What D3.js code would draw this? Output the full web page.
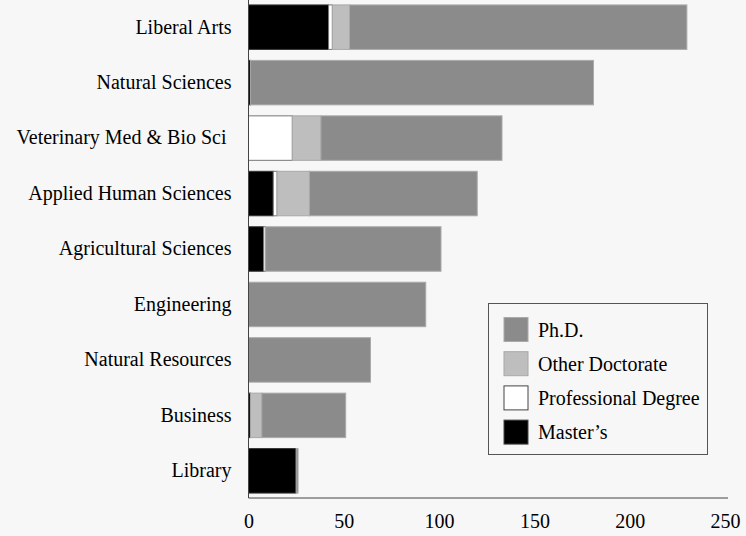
<!DOCTYPE html>
<html>
<head>
<meta charset="utf-8">
<script src="https://cdn.jsdelivr.net/npm/d3@7"></script>
<style>
  body { margin: 0; background: #f7f7f7; }
  svg { display: block; background: #f7f7f7; }
  svg text { font-family: "Liberation Serif", "Times New Roman", Times, "DejaVu Serif", serif; }
</style>
</head>
<body>
<svg width="746" height="536"></svg>
<script>
// categories, top to bottom
var colleges = ['Liberal Arts', 'Natural Sciences', 'Veterinary Med & Bio Sci ', 'Applied Human Sciences',
    'Agricultural Sciences', 'Engineering', 'Natural Resources', 'Business', 'Library'];

// degree counts per college (same order as colleges)
var masters      = [42, 1, 0, 13, 8, 0, 0, 1, 25];
var professional = [ 2, 0, 23, 2, 1, 0, 0, 0, 0];
var otherDoc     = [ 9, 0, 15, 17, 0, 0, 0, 6, 0];
var phd          = [177, 180, 95, 88, 92, 93, 64, 44, 1];

var xTicks = [0, 50, 100, 150, 200, 250];

// stack order left to right, legend order top to bottom is reversed
var seriesNames = ["Master\u2019s", 'Professional Degree', 'Other Doctorate', 'Ph.D.'];
var seriesValues = [masters, professional, otherDoc, phd];
var fills = ['#000000', '#ffffff', '#bebebe', '#8b8b8b'];
var strokes = ['#333333', '#777777', '#a8a8a8', '#aaaaaa'];

var svg = d3.select('svg');
var left = 248.5, bottom = 498;

var x = d3.scaleLinear().domain([0, 250]).range([left, 725]);
var y = d3.scaleBand().domain(colleges).range([0, bottom]).paddingInner(0.18).paddingOuter(0.08);

var rows = colleges.map(function(c, i) {
    var row = { college: c };
    seriesNames.forEach(function(s, k) { row[s] = seriesValues[k][i]; });
    return row;
});
var stacked = d3.stack().keys(seriesNames)(rows);

var layers = svg.append('g').selectAll('g').data(stacked).enter().append('g')
    .attr('fill', function(d, i) { return fills[i]; })
    .attr('stroke', function(d, i) { return strokes[i]; })
    .attr('stroke-width', 1);

layers.selectAll('rect').data(function(d) { return d.filter(function(p) { return p[1] > p[0]; }); })
    .enter().append('rect')
    .attr('x', function(d) { return x(d[0]); })
    .attr('y', function(d) { return y(d.data.college) + 0.5; })
    .attr('width', function(d) { return x(d[1]) - x(d[0]); })
    .attr('height', y.bandwidth() - 1);

// axes (no tick marks)
var xAxis = svg.append('g').attr('transform', 'translate(0,' + bottom + ')')
    .call(d3.axisBottom(x).tickValues(xTicks).tickSize(0).tickPadding(16));
xAxis.attr('font-family', null);
xAxis.select('.domain').attr('stroke', '#444').attr('d', 'M' + left + ',0H728');
xAxis.selectAll('text').attr('font-size', 20).attr('fill', '#000');

var yAxis = svg.append('g').attr('transform', 'translate(' + left + ',0)')
    .call(d3.axisLeft(y).tickSize(0).tickPadding(17));
yAxis.attr('font-family', null);
yAxis.select('.domain').attr('stroke', '#444').attr('d', 'M0,0V' + bottom);
yAxis.selectAll('text').attr('font-size', 20).attr('fill', '#000').style('white-space', 'pre');

// legend
var legend = svg.append('g');
legend.append('rect').attr('x', 488.5).attr('y', 303.5).attr('width', 219).attr('height', 151)
    .attr('fill', '#f7f7f7').attr('stroke', '#555');
var legendItems = seriesNames.slice().reverse();
var item = legend.selectAll('g.item').data(legendItems).enter().append('g')
    .attr('class', 'item')
    .attr('transform', function(d, i) { return 'translate(504,' + (317.5 + i * 34.2) + ')'; });
item.append('rect').attr('width', 24).attr('height', 24)
    .attr('fill', function(d) { return fills[seriesNames.indexOf(d)]; })
    .attr('stroke', function(d) { return d === 'Ph.D.' || d === 'Other Doctorate' ? strokes[seriesNames.indexOf(d)] : '#444'; });
item.append('text').attr('x', 34).attr('y', 19).attr('font-size', 20).text(function(d) { return d; });
</script>
</body>
</html>
